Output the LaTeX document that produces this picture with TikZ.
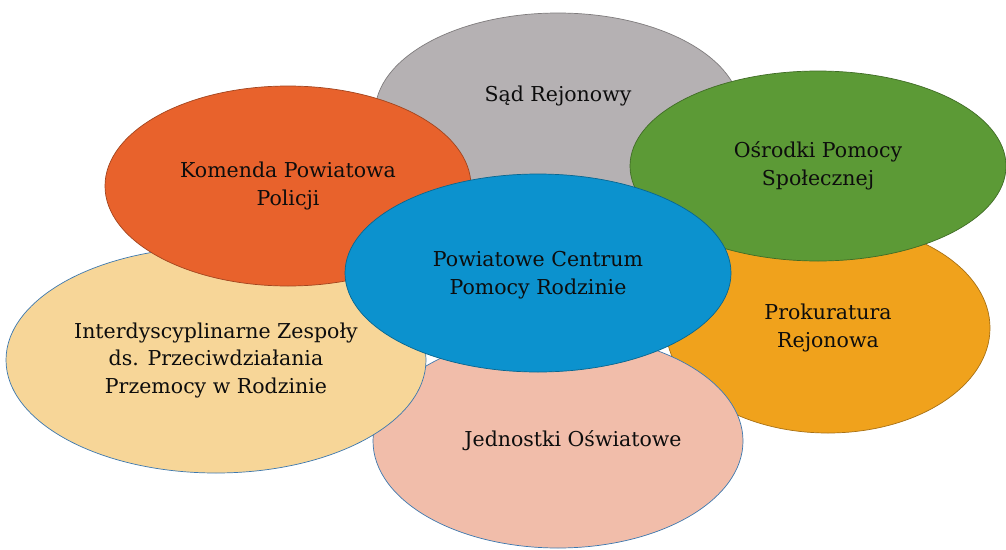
\documentclass[tikz,border=0pt]{standalone}
\usepackage{fontspec}
\setmainfont{DejaVu Serif}
\usetikzlibrary{shapes.geometric}
\definecolor{cgray}{RGB}{181,177,179}
\definecolor{cred}{RGB}{232,98,44}
\definecolor{cgreen}{RGB}{92,154,54}
\definecolor{cblue}{RGB}{12,146,206}
\definecolor{corange}{RGB}{240,162,28}
\definecolor{ctan}{RGB}{247,214,152}
\definecolor{cpink}{RGB}{241,189,170}
\definecolor{edgeblue}{RGB}{60,120,175}
\tikzset{
  petal/.style={ellipse, fill=#1, draw=#1!70!black, line width=0.7pt, inner sep=0pt,
    align=center, font=\fontsize{20.5}{27.5}\selectfont, text=black!95},
}
\begin{document}
\begin{tikzpicture}[x=1pt,y=-1pt]
\path[use as bounding box, fill=white] (0,0) rectangle (1006,549);
\node[petal=cgray, minimum width=366pt, minimum height=200pt, text depth=38pt] (sad) at (558,113) {Sąd Rejonowy};
\node[petal=corange, minimum width=324pt, minimum height=210pt] (prok) at (828,328) {Prokuratura\\Rejonowa};
\node[petal=cpink, minimum width=370pt, minimum height=214pt, draw=edgeblue] (jedn) at (558,441) {\hspace*{30pt}Jednostki Oświatowe};
\node[petal=ctan, minimum width=420pt, minimum height=226pt, draw=edgeblue] (inter) at (216,360) {Interdyscyplinarne Zespoły\\ds. Przeciwdziałania\\Przemocy w Rodzinie};
\node[petal=cred, minimum width=366pt, minimum height=200pt] (kom) at (288,186) {Komenda Powiatowa\\Policji};
\node[petal=cgreen, minimum width=376pt, minimum height=190pt] (osr) at (818,166) {Ośrodki Pomocy\\Społecznej};
\node[petal=cblue, minimum width=386pt, minimum height=198pt, text depth=0pt] (pcpr) at (538,273) {Powiatowe Centrum\\Pomocy Rodzinie};
\end{tikzpicture}
\end{document}
